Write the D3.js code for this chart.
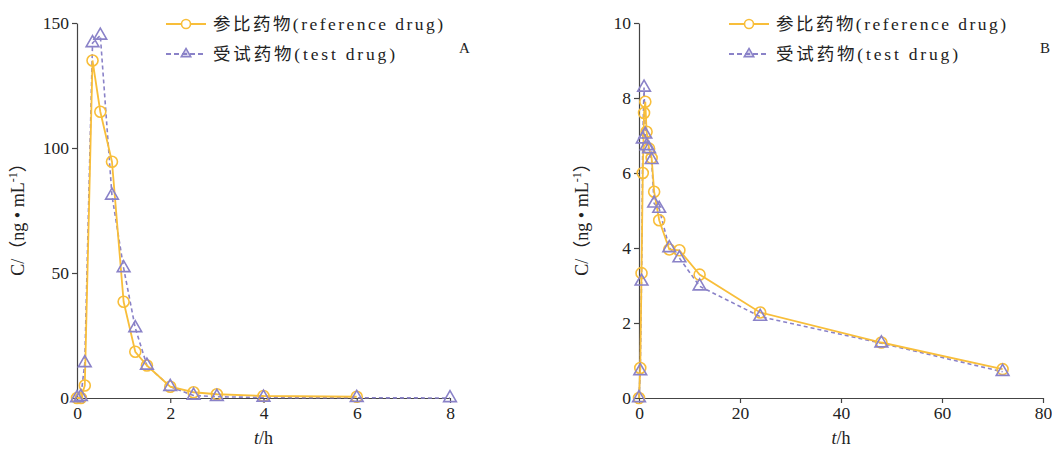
<!DOCTYPE html>
<html><head><meta charset="utf-8">
<script src="https://cdn.jsdelivr.net/npm/d3@7"></script>
<style>body{margin:0;background:#fff;}svg{display:block;}</style>
</head><body>
<svg id="c" width="1052" height="450"></svg>
<script>
// Panel A data
const timesA = [0, 0.083, 0.167, 0.333, 0.5, 0.75, 1, 1.25, 1.5, 2, 2.5, 3, 4, 6, 8];
const refA   = [0, 0, 5, 135, 114.5, 94.5, 38.5, 18.5, 13, 4.5, 2.3, 1.5, 0.8, 0.5, null];
const testA  = [0, 0.5, 14, 142, 145, 81, 52, 28, 13, 4.5, 1, 0.5, 0.2, 0.1, 0];
const ticksXA = [0, 2, 4, 6, 8];
const ticksYA = [0, 50, 100, 150];
// Panel B data
const timesB = [0, 0.25, 0.5, 0.75, 1, 1.25, 1.5, 2, 2.5, 3, 4, 6, 8, 12, 24, 48, 72];
const refB   = [0, 0.8, 3.33, 6.0, 7.6, 7.9, 7.1, 6.65, 6.4, 5.5, 4.74, 3.96, 3.94, 3.29, 2.28, 1.48, 0.77];
const testB  = [0, 0.72, 3.11, 6.9, 8.28, 7.03, 6.72, 6.64, 6.35, 5.19, 5.05, 4.0, 3.73, 2.98, 2.17, 1.46, 0.7];
const ticksXB = [0, 20, 40, 60, 80];
const ticksYB = [0, 2, 4, 6, 8, 10];
const seriesNames = ["参比药物(reference drug)", "受试药物(test drug)"];
const panelLabels = ["A", "B"];

const ORANGE = "#F8BE3A", PURPLE = "#8A82C8";
const svg = d3.select("#c");
const serif = "'Liberation Serif','DejaVu Serif','Noto Sans CJK SC',serif";
const legendFont = "'Liberation Serif','Noto Sans CJK SC',serif";

const tri = d3.symbol().type(d3.symbolTriangle);

function panel(cfg) {
  const x = d3.scaleLinear().domain(cfg.xd).range([cfg.x0, cfg.x1]);
  const y = d3.scaleLinear().domain(cfg.yd).range([398, 23]);
  const g = svg.append("g");
  const xa = g.append("g").attr("transform", "translate(0,398)")
    .call(d3.axisBottom(x).tickValues(cfg.tx).tickSize(5).tickSizeOuter(0).tickPadding(4));
  const ya = g.append("g").attr("transform", `translate(${cfg.x0},0)`)
    .call(d3.axisLeft(y).tickValues(cfg.ty).tickSize(5).tickSizeOuter(0).tickPadding(3));
  [xa, ya].forEach(a => {
    a.selectAll("path,line").attr("stroke", "#444").attr("stroke-width", 1.2);
    a.selectAll("text").attr("font-family", serif).attr("font-size", 17.5).attr("fill", "#222");
  });
  const line = d3.line().defined(d => d[1] != null).x(d => x(d[0])).y(d => y(d[1]));
  const ref = cfg.t.map((t, i) => [t, cfg.r[i]]);
  const tst = cfg.t.map((t, i) => [t, cfg.s[i]]);
  g.append("path").datum(tst).attr("d", line).attr("fill", "none")
    .attr("stroke", PURPLE).attr("stroke-width", 1.6).attr("stroke-dasharray", "4,3");
  g.append("path").datum(ref).attr("d", line).attr("fill", "none")
    .attr("stroke", ORANGE).attr("stroke-width", 1.8);
  g.selectAll(".c").data(ref.filter(d => d[1] != null)).join("circle")
    .attr("cx", d => x(d[0])).attr("cy", d => y(d[1])).attr("r", 5.5)
    .attr("fill", "none").attr("stroke", ORANGE).attr("stroke-width", 1.6);
  g.selectAll(".t").data(tst).join("path")
    .attr("d", tri.size(70)()).attr("transform", d => `translate(${x(d[0])},${y(d[1])})`)
    .attr("fill", "none").attr("stroke", PURPLE).attr("stroke-width", 1.6);
  // axis titles
  const yt = g.append("text").attr("transform", `translate(${cfg.ytx},215) rotate(-90)`)
    .attr("text-anchor", "middle").attr("font-family", serif).attr("font-size", 18).attr("fill", "#222");
  yt.append("tspan").text("C/（ng • mL");
  yt.append("tspan").text("-1").attr("font-size", 12).attr("dy", -7);
  yt.append("tspan").text("）").attr("dy", 7);
  const xt = g.append("text").attr("x", (cfg.x0 + cfg.x1) / 2).attr("y", 444)
    .attr("text-anchor", "middle").attr("font-family", serif).attr("font-size", 18).attr("fill", "#222");
  xt.append("tspan").text("t").attr("font-style", "italic");
  xt.append("tspan").text("/h");
  // legend
  const lg = g.append("g");
  [0, 1].forEach(i => {
    const yy = 24 + i * 30;
    lg.append("line").attr("x1", cfg.lx).attr("x2", cfg.lx + 40).attr("y1", yy).attr("y2", yy)
      .attr("stroke", i ? PURPLE : ORANGE).attr("stroke-width", i ? 1.8 : 2)
      .attr("stroke-dasharray", i ? "5,3" : null);
    if (i) lg.append("path").attr("d", tri.size(40)()).attr("transform", `translate(${cfg.lx + 20},${yy})`)
      .attr("fill", PURPLE).attr("fill-opacity", 0.35).attr("stroke", PURPLE).attr("stroke-width", 1.5);
    else lg.append("circle").attr("cx", cfg.lx + 20).attr("cy", yy).attr("r", 4.5)
      .attr("fill", "#fff").attr("stroke", ORANGE).attr("stroke-width", 1.6);
    lg.append("text").attr("x", cfg.lx + 47).attr("y", yy + 6).text(seriesNames[i])
      .attr("font-family", legendFont).attr("font-size", 17.5).attr("fill", "#222")
      .attr("textLength", i ? 182 : 230).attr("lengthAdjust", "spacing");
  });
  g.append("text").attr("x", cfg.labx).attr("y", 53).text(cfg.lab)
    .attr("font-family", serif).attr("font-size", 15).attr("fill", "#222");
}

panel({xd: [0, 8], yd: [0, 150], x0: 77, x1: 450, tx: ticksXA, ty: ticksYA,
  t: timesA, r: refA, s: testA, ytx: 24, lx: 166, labx: 459, lab: panelLabels[0]});
panel({xd: [0, 80], yd: [0, 10], x0: 639, x1: 1043, tx: ticksXB, ty: ticksYB,
  t: timesB, r: refB, s: testB, ytx: 588, lx: 729, labx: 1040, lab: panelLabels[1]});
</script>
</body></html>
